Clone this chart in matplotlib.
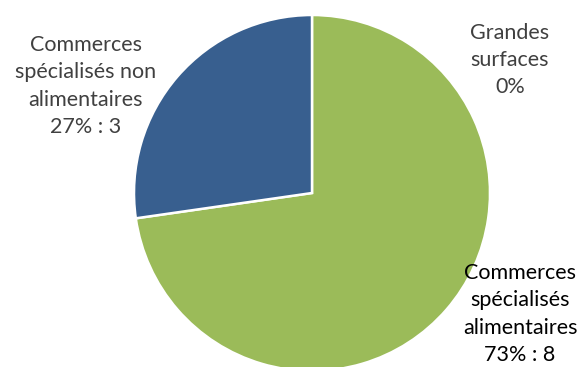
import matplotlib
matplotlib.use("Agg")
import matplotlib.pyplot as plt

# Répartition des commerces par type
categories = ["Grandes\nsurfaces", "Commerces\nspécialisés\nalimentaires", "Commerces\nspécialisés non\nalimentaires"]
values = [0, 8, 3]
colors = ["#4F81BD", "#9BBB59", "#385F8F"]
label_colors = ["#404040", "#000000", "#404040"]
show_count = [False, True, True]

# label anchor points in data units (pie radius = 1)
label_pos = [(1.112, 0.747), (1.169, -0.680), (-1.270, 0.601)]

plt.rcParams["font.family"] = ["Lato", "DejaVu Sans"]

W, H = 582, 367
fig = plt.figure(figsize=(W / 100, H / 100), dpi=100)
ax = fig.add_axes([0, 0, 1, 1])

cx, cy, r = 312.0, 193.0, 178.0

ax.pie(values, colors=colors, startangle=90, counterclock=False,
       radius=1.0, center=(0, 0), frame=True,
       wedgeprops=dict(edgecolor="white", linewidth=1.8))
ax.set_xlim(-cx / r, (W - cx) / r)
ax.set_ylim((cy - H) / r, cy / r)
ax.set_aspect("auto")
ax.axis("off")

total = sum(values)
for cat, v, (x, y), col, cnt in zip(categories, values, label_pos, label_colors, show_count):
    pct = round(100 * v / total)
    txt = f"{cat}\n{pct}%" + (f" : {v}" if cnt else "")
    ax.text(x, y, txt, ha="center", va="center", fontsize=15.5, color=col,
            linespacing=1.45)

fig.savefig("out.png", dpi=100)
